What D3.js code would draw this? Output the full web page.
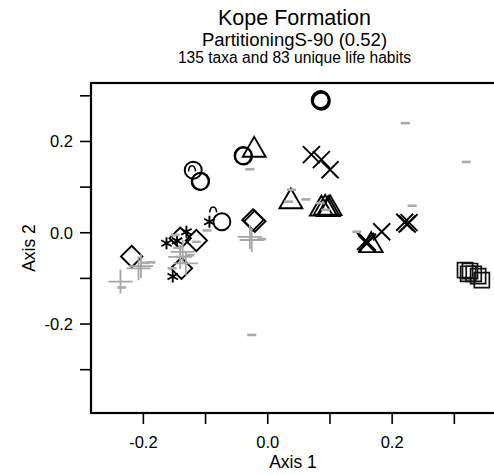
<!DOCTYPE html>
<html>
<head>
<meta charset="utf-8">
<script src="https://cdn.jsdelivr.net/npm/d3@7"></script>
<style>
  body { margin: 0; background: #fff; }
  svg { display: block; font-family: "Liberation Sans", Arial, Helvetica, sans-serif; }
</style>
</head>
<body>
<svg id="chart" width="494" height="475"></svg>
<script>
// Ordination scores (Axis 1, Axis 2) grouped by plotting symbol
const circles = [
  [-0.119, 0.136], [-0.108, 0.111], [-0.107, 0.112],
  [-0.039, 0.168], [-0.038, 0.167],
  [-0.073, 0.023],
  [0.085, 0.289], [0.087, 0.287], [0.086, 0.291]
];
const triangles = [
  [-0.021, 0.180],
  [0.038, 0.067],
  [0.087, 0.051], [0.093, 0.053], [0.098, 0.050], [0.101, 0.052],
  [0.167, -0.029]
];
const crosses = [
  [0.071, 0.170], [0.087, 0.159], [0.101, 0.137],
  [0.158, -0.020], [0.161, -0.022], [0.160, -0.025],
  [0.184, 0.001],
  [0.221, 0.022], [0.225, 0.018], [0.228, 0.021]
];
const diamonds = [
  [-0.218, -0.053],
  [-0.114, -0.018],
  [-0.138, -0.079],
  [-0.140, -0.013],
  [-0.023, 0.027], [-0.020, 0.024]
];
const squares = [
  [0.318, -0.083], [0.326, -0.085], [0.332, -0.091],
  [0.339, -0.096], [0.345, -0.105], [0.323, -0.091]
];
const asterisks = [
  [-0.162, -0.024], [-0.145, -0.019], [-0.130, 0.001],
  [-0.152, -0.097], [-0.093, 0.023]
];
const carets = [
  [-0.121, 0.139], [-0.087, 0.049]
];
const greyPlus = [
  [-0.028, -0.010], [-0.025, -0.017],
  [-0.207, -0.079], [-0.203, -0.074],
  [-0.236, -0.108],
  [-0.140, -0.054], [-0.131, -0.068], [-0.136, -0.043]
];
const greyDash = [
  [-0.028, 0.138], [-0.097, 0.004], [-0.025, -0.225], [-0.009, -0.015],
  [0.039, 0.093], [0.034, 0.067], [0.062, 0.072], [0.085, 0.064], [0.094, 0.049],
  [0.144, 0.001], [0.233, 0.058], [0.222, 0.239], [0.320, 0.154],
  [-0.234, -0.121], [-0.197, -0.067], [-0.187, -0.066], [-0.148, -0.006],
  [-0.114, -0.021], [-0.153, -0.079], [-0.140, -0.054], [-0.124, -0.050], [-0.144, -0.034]
];

const xTicks = [-0.2, -0.1, 0.0, 0.1, 0.2, 0.3];
const xLabels = [-0.2, 0.0, 0.2];
const yTicks = [-0.3, -0.2, -0.1, 0.0, 0.1, 0.2, 0.3];
const yLabels = [-0.2, 0.0, 0.2];

const titleText = "Kope Formation";
const subtitleText = "PartitioningS-90 (0.52)";
const noteText = "135 taxa and 83 unique life habits";

// Plot region
const plotL = 91, plotR = 498, plotT = 83, plotB = 413;
const x = d3.scaleLinear().domain([-0.2834, 0.371]).range([plotL, plotR]);
const y = d3.scaleLinear().domain([-0.396, 0.327]).range([plotB, plotT]);

const svg = d3.select("#chart");

// Titles
svg.append("text").attr("x", 294.5).attr("y", 25).attr("text-anchor", "middle")
  .attr("font-size", 21.5).text(titleText);
svg.append("text").attr("x", 294.5).attr("y", 46).attr("text-anchor", "middle")
  .attr("font-size", 18.5).text(subtitleText);
svg.append("text").attr("x", 294.5).attr("y", 62.5).attr("text-anchor", "middle")
  .attr("font-size", 15.6).text(noteText);

const fmt = d => d3.format(".1f")(d).replace("\u2212", "-");

// Axes
const xAxis = svg.append("g").attr("transform", `translate(0,${plotB})`)
  .call(d3.axisBottom(x).tickValues(xTicks).tickSize(11).tickSizeOuter(0)
    .tickFormat(d => xLabels.some(v => Math.abs(v - d) < 1e-9) ? fmt(d) : ""));
xAxis.select(".domain").remove();
xAxis.selectAll(".tick line").attr("stroke", "#000").attr("stroke-width", 1.6);
xAxis.selectAll(".tick text").attr("font-size", 16.5).attr("fill", "#000")
  .attr("font-family", "Liberation Sans, Arial, sans-serif").attr("dy", 0).attr("y", 35);

const yAxis = svg.append("g").attr("transform", `translate(${plotL},0)`)
  .call(d3.axisLeft(y).tickValues(yTicks).tickSize(11).tickSizeOuter(0)
    .tickFormat(d => yLabels.some(v => Math.abs(v - d) < 1e-9) ? fmt(d) : ""));
yAxis.select(".domain").remove();
yAxis.selectAll(".tick line").attr("stroke", "#000").attr("stroke-width", 1.6);
yAxis.selectAll(".tick text").attr("font-size", 16.5).attr("fill", "#000")
  .attr("font-family", "Liberation Sans, Arial, sans-serif").attr("x", -18).attr("dy", "0.35em");

// Axis titles
svg.append("text").attr("x", 293).attr("y", 468).attr("text-anchor", "middle")
  .attr("font-size", 17.5).text("Axis 1");
svg.append("text").attr("transform", "translate(35,248) rotate(-90)")
  .attr("text-anchor", "middle").attr("font-size", 17.5).text("Axis 2");

// Plot box
svg.append("rect").attr("x", plotL).attr("y", plotT)
  .attr("width", plotR - plotL).attr("height", plotB - plotT)
  .attr("fill", "none").attr("stroke", "#000").attr("stroke-width", 2.2);

svg.append("clipPath").attr("id", "plotclip").append("rect")
  .attr("x", plotL + 1).attr("y", plotT + 1).attr("width", plotR - plotL - 2).attr("height", plotB - plotT - 2);
const g = svg.append("g").attr("clip-path", "url(#plotclip)");

// Symbol geometry (pixel units)
const R = 8.5;
const shapes = {
  triangle: () => {
    const r = 1.555 * R, xc = 1.347 * R, yc = 0.778 * R;
    return `M0,${-r}L${xc},${yc}L${-xc},${yc}Z`;
  },
  cross: () => `M${-R},${-R}L${R},${R}M${-R},${R}L${R},${-R}`,
  diamond: () => { const d = 1.253 * R; return `M0,${-d}L${d},0L0,${d}L${-d},0Z`; },
  square: () => { const s = 0.886 * R; return `M${-s},${-s}H${s}V${s}H${-s}Z`; },
  plus: () => { const p = 1.414 * R; return `M${-p},0H${p}M0,${-p}V${p}`; },
  asterisk: () => {
    const a = 6, c = a * Math.cos(Math.PI / 6), s = a * Math.sin(Math.PI / 6);
    return `M0,${-a}V${a}M${-c},${-s}L${c},${s}M${-c},${s}L${c},${-s}`;
  },
  caret: () => "M-3.5,2.5Q-3,-3 0,-3Q3,-3 3.5,2.5",
  dash: () => "M-4.5,0H4.5"
};

function drawPaths(data, shape, color, width) {
  g.append("g").selectAll("path").data(data).join("path")
    .attr("transform", d => `translate(${x(d[0])},${y(d[1])})`)
    .attr("d", shapes[shape]())
    .attr("fill", "none").attr("stroke", color).attr("stroke-width", width)
    .attr("stroke-linejoin", "miter");
}

g.append("g").selectAll("circle").data(circles).join("circle")
  .attr("cx", d => x(d[0])).attr("cy", d => y(d[1])).attr("r", R)
  .attr("fill", "none").attr("stroke", "#000").attr("stroke-width", 1.9);
drawPaths(triangles, "triangle", "#000", 1.9);
drawPaths(crosses, "cross", "#000", 1.9);
drawPaths(diamonds, "diamond", "#000", 1.9);
drawPaths(squares, "square", "#111", 1.7);
drawPaths(asterisks, "asterisk", "#000", 1.9);
drawPaths(carets, "caret", "#000", 1.5);
drawPaths(greyPlus, "plus", "#a6a6a6", 1.8);
drawPaths(greyDash, "dash", "#aaaaaa", 2.6);
</script>
</body>
</html>
